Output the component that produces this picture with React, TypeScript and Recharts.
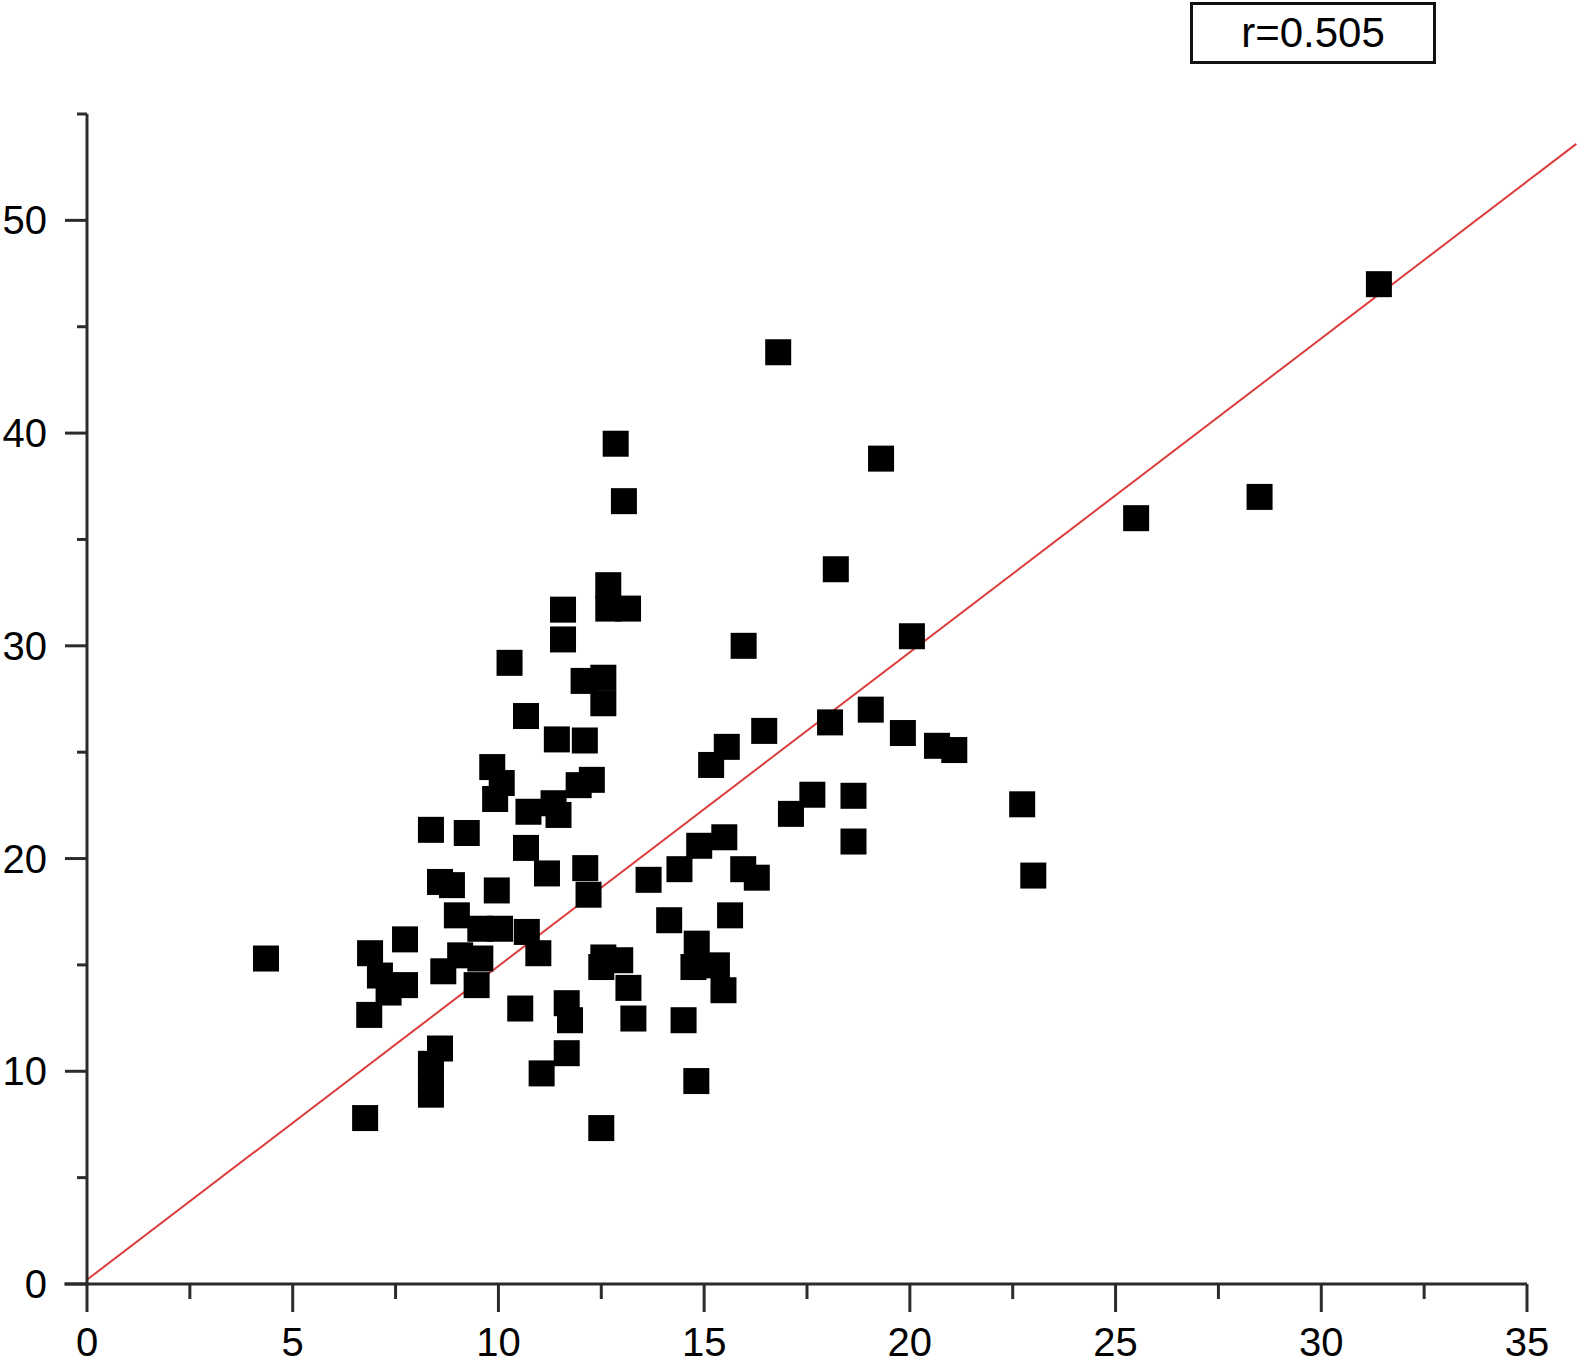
import { ReferenceLine, Scatter, ScatterChart, XAxis, YAxis } from "recharts";

// values
const xValues = [
  31.4, 28.5, 25.5, 16.8, 12.85, 19.3, 13.05, 18.2, 12.67, 12.67,
  13.15, 11.57, 11.57, 10.27, 15.96, 20.05, 12.07, 12.55, 12.55, 10.67,
  11.42, 12.1, 16.46, 18.06, 19.05, 19.83, 20.66, 21.08, 15.55, 15.17,
  9.85, 10.08, 9.92, 11.95, 12.27, 10.73, 11.34, 11.46, 17.63, 17.11,
  18.63, 22.73, 8.36, 9.23, 10.67, 18.63, 15.49, 14.88, 23.0, 11.18,
  12.11, 12.19, 8.58, 8.87, 9.96, 13.65, 14.4, 15.95, 16.28, 8.99,
  9.56, 10.04, 10.69, 10.97, 9.07, 8.66, 9.47, 9.56, 7.73, 6.88,
  7.12, 7.73, 7.33, 6.86, 4.35, 10.53, 11.66, 11.74, 11.66, 11.05,
  8.58, 8.36, 8.36, 8.36, 6.76, 12.5, 12.55, 12.96, 12.5, 13.16,
  13.28, 14.15, 15.63, 14.82, 14.74, 15.31, 15.47, 14.5, 14.81,
];

const yValues = [
  47.0, 37.0, 36.0, 43.8, 39.5, 38.8, 36.8, 33.6, 32.85, 31.75,
  31.75, 31.7, 30.3, 29.2, 30.0, 30.45, 28.35, 28.5, 27.3, 26.7,
  25.6, 25.55, 26.0, 26.4, 27.0, 25.9, 25.3, 25.1, 25.25, 24.4,
  24.3, 23.55, 22.8, 23.45, 23.7, 22.2, 22.6, 22.05, 23.0, 22.1,
  22.95, 22.55, 21.35, 21.2, 20.5, 20.8, 21.0, 20.6, 19.2, 19.3,
  19.55, 18.3, 18.9, 18.75, 18.5, 19.0, 19.5, 19.5, 19.1, 17.33,
  16.7, 16.7, 16.55, 15.55, 15.45, 14.7, 14.05, 15.3, 16.2, 15.55,
  14.5, 14.05, 13.7, 12.65, 15.3, 12.95, 13.2, 12.4, 10.85, 9.9,
  11.07, 10.35, 9.6, 8.9, 7.8, 7.33, 15.35, 15.22, 14.9, 13.92,
  12.48, 17.1, 17.33, 16.0, 14.9, 14.98, 13.81, 12.4, 9.54,
];

const xTicks = [0, 2.5, 5, 7.5, 10, 12.5, 15, 17.5, 20, 22.5, 25, 27.5, 30, 32.5, 35];
const yTicks = [0, 5, 10, 15, 20, 25, 30, 35, 40, 45, 50, 55];

// fitted line
const fitIntercept = 0.2;
const fitSlope = 1.475;
const fitEndX = 36.2;
const rLabel = "r=0.505";

const points = xValues.map((x, i) => ({ x, y: yValues[i] }));

const font = "'Liberation Sans', Arial, Helvetica, sans-serif";
const axisColor = "#2b2b2b";

const XTick = (props: any) => {
  const { x, y, payload } = props;
  const major = payload.value % 5 === 0;
  return (
    <g>
      <line x1={x} x2={x} y1={y} y2={y + (major ? 28 : 15)} stroke={axisColor} strokeWidth={3} />
      {major && (
        <text x={x} y={y + 72} textAnchor="middle" fontSize={40} fontFamily={font} fill="#000">
          {payload.value}
        </text>
      )}
    </g>
  );
};

const YTick = (props: any) => {
  const { x, y, payload } = props;
  const major = payload.value % 10 === 0;
  return (
    <g>
      <line x1={x - (major ? 22 : 10)} x2={x} y1={y} y2={y} stroke={axisColor} strokeWidth={3} />
      {major && (
        <text x={x - 40} y={y + 14} textAnchor="end" fontSize={40} fontFamily={font} fill="#000">
          {payload.value}
        </text>
      )}
    </g>
  );
};

const Square = (props: any) => {
  const { cx, cy } = props;
  return <rect x={cx - 13} y={cy - 13} width={26} height={26} fill="#000" />;
};

export default function App() {
  return (
    <div style={{ position: "absolute", left: 0, top: 0, width: 1585, height: 1365, background: "#fff" }}>
      <ScatterChart width={1585} height={1365} margin={{ top: 114, right: 58, left: 7, bottom: 11 }}>
        <XAxis
          type="number"
          dataKey="x"
          domain={[0, 35]}
          ticks={xTicks}
          interval={0}
          height={70}
          tickSize={0}
          tickMargin={0}
          tickLine={false}
          axisLine={{ stroke: axisColor, strokeWidth: 3 }}
          tick={<XTick />}
        />
        <YAxis
          type="number"
          dataKey="y"
          domain={[0, 55]}
          ticks={yTicks}
          interval={0}
          width={80}
          tickSize={0}
          tickMargin={0}
          tickLine={false}
          axisLine={{ stroke: axisColor, strokeWidth: 3 }}
          tick={<YTick />}
        />
        <Scatter data={points} shape={<Square />} isAnimationActive={false} />
        <ReferenceLine
          segment={[{ x: -0.55, y: 0 }, { x: 0, y: 0 }]}
          ifOverflow="visible"
          stroke={axisColor}
          strokeWidth={3}
        />
        <ReferenceLine
          segment={[
            { x: 0, y: fitIntercept },
            { x: fitEndX, y: fitIntercept + fitSlope * fitEndX },
          ]}
          ifOverflow="visible"
          stroke="#dc3c3c"
          strokeWidth={2}
        />
      </ScatterChart>
      <div
        style={{
          position: "absolute",
          left: 1190,
          top: 2,
          width: 240,
          height: 56,
          border: "3px solid #111",
          fontFamily: font,
          fontSize: 42,
          lineHeight: "56px",
          textAlign: "center",
          color: "#000",
        }}
      >
        {rLabel}
      </div>
    </div>
  );
}
